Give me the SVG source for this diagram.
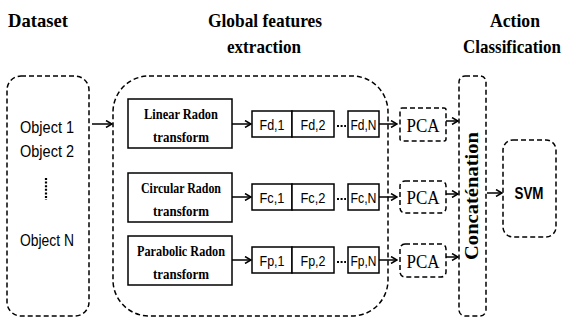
<svg xmlns="http://www.w3.org/2000/svg" width="571" height="320" viewBox="0 0 571 320">
<defs>
<style>
.title{font-family:"Liberation Serif",serif;font-weight:bold;font-size:19px;text-anchor:middle;fill:#000}
.dash{fill:none;stroke:#000;stroke-width:1.5;stroke-dasharray:5,3}
.solid{fill:#fff;stroke:#000;stroke-width:1.5}
.tb{font-family:"Liberation Serif",serif;font-weight:bold;font-size:15px;text-anchor:middle}
.cell{font-family:"Liberation Sans",sans-serif;font-size:15px;text-anchor:middle}
.obj{font-family:"Liberation Sans",sans-serif;font-size:17px;text-anchor:middle}
.pca{font-family:"Liberation Serif",serif;font-size:19px;text-anchor:middle}
.conn{fill:none;stroke:#000;stroke-width:1.5;marker-end:url(#arr)}
.dots{stroke:#000;stroke-width:2.2;stroke-dasharray:2,1.6}
</style>
<marker id="arr" markerWidth="8" markerHeight="8" refX="7" refY="4" orient="auto" markerUnits="userSpaceOnUse">
<path d="M1,0.5 L7,4 L1,7.5" fill="none" stroke="#000" stroke-width="1.5"/>
</marker>
</defs>
<rect width="571" height="320" fill="#fff"/>
<g id="titles">
<text class="title" x="38" y="27" textLength="60" lengthAdjust="spacingAndGlyphs">Dataset</text>
<text class="title" x="265" y="27" textLength="114" lengthAdjust="spacingAndGlyphs">Global features</text>
<text class="title" x="264" y="53" textLength="74" lengthAdjust="spacingAndGlyphs">extraction</text>
<text class="title" x="515" y="27" font-size="18" textLength="50" lengthAdjust="spacingAndGlyphs">Action</text>
<text class="title" x="512" y="53" font-size="17" textLength="98" lengthAdjust="spacingAndGlyphs">Classification</text>
</g>
<g id="dataset">
<rect class="dash" x="7" y="76" width="82" height="240" rx="14"/>
<text class="obj" x="47" y="133" textLength="54" lengthAdjust="spacingAndGlyphs">Object 1</text>
<text class="obj" x="47" y="157" textLength="54" lengthAdjust="spacingAndGlyphs">Object 2</text>
<line class="dots" x1="46" y1="178" x2="46" y2="200"/>
<text class="obj" x="47" y="246" textLength="54" lengthAdjust="spacingAndGlyphs">Object N</text>
</g>
<g id="global">
<rect class="dash" x="113" y="76" width="275" height="240" rx="36"/>
</g>
<g id="linear">
<rect class="solid" x="128" y="99" width="104" height="49"/>
<text class="tb" x="181" y="119" textLength="74" lengthAdjust="spacingAndGlyphs">Linear Radon</text>
<text class="tb" x="181" y="142" textLength="56" lengthAdjust="spacingAndGlyphs">transform</text>
</g>
<g id="fd">
<rect class="solid" x="252" y="111" width="40" height="26"/>
<rect class="solid" x="292" y="111" width="42" height="26"/>
<line class="dots" x1="337" y1="126" x2="346" y2="126"/>
<rect class="solid" x="348" y="111" width="31" height="26"/>
<text class="cell" x="272" y="130" textLength="25" lengthAdjust="spacingAndGlyphs">Fd,1</text>
<text class="cell" x="313" y="130" textLength="25" lengthAdjust="spacingAndGlyphs">Fd,2</text>
<text class="cell" x="363.5" y="130" textLength="26" lengthAdjust="spacingAndGlyphs">Fd,N</text>
</g>
<g id="circular">
<rect class="solid" x="128" y="173" width="104" height="49"/>
<text class="tb" x="181" y="193" textLength="80" lengthAdjust="spacingAndGlyphs">Circular Radon</text>
<text class="tb" x="181" y="216" textLength="56" lengthAdjust="spacingAndGlyphs">transform</text>
</g>
<g id="fc">
<rect class="solid" x="252" y="184" width="40" height="26"/>
<rect class="solid" x="292" y="184" width="42" height="26"/>
<line class="dots" x1="337" y1="199" x2="346" y2="199"/>
<rect class="solid" x="348" y="184" width="31" height="26"/>
<text class="cell" x="272" y="203" textLength="25" lengthAdjust="spacingAndGlyphs">Fc,1</text>
<text class="cell" x="313" y="203" textLength="25" lengthAdjust="spacingAndGlyphs">Fc,2</text>
<text class="cell" x="363.5" y="203" textLength="26" lengthAdjust="spacingAndGlyphs">Fc,N</text>
</g>
<g id="parabolic">
<rect class="solid" x="128" y="236" width="104" height="49"/>
<text class="tb" x="181" y="256" textLength="88" lengthAdjust="spacingAndGlyphs">Parabolic Radon</text>
<text class="tb" x="181" y="279" textLength="56" lengthAdjust="spacingAndGlyphs">transform</text>
</g>
<g id="fp">
<rect class="solid" x="252" y="247" width="40" height="26"/>
<rect class="solid" x="292" y="247" width="42" height="26"/>
<line class="dots" x1="337" y1="262" x2="346" y2="262"/>
<rect class="solid" x="348" y="247" width="31" height="26"/>
<text class="cell" x="272" y="266" textLength="25" lengthAdjust="spacingAndGlyphs">Fp,1</text>
<text class="cell" x="313" y="266" textLength="25" lengthAdjust="spacingAndGlyphs">Fp,2</text>
<text class="cell" x="363.5" y="266" textLength="26" lengthAdjust="spacingAndGlyphs">Fp,N</text>
</g>
<g id="pca1">
<rect class="dash" x="400" y="108" width="46" height="33" rx="2"/>
<text class="pca" x="423" y="132" textLength="33" lengthAdjust="spacingAndGlyphs">PCA</text>
</g>
<g id="pca2">
<rect class="dash" x="400" y="181" width="46" height="32" rx="5"/>
<text class="pca" x="423" y="204" textLength="33" lengthAdjust="spacingAndGlyphs">PCA</text>
</g>
<g id="pca3">
<rect class="dash" x="400" y="244" width="46" height="33" rx="5"/>
<text class="pca" x="423" y="268" textLength="33" lengthAdjust="spacingAndGlyphs">PCA</text>
</g>
<g id="concat">
<rect class="dash" x="459" y="76" width="27" height="240" rx="6"/>
<text x="478" y="196" transform="rotate(-90 478 196)" font-family="Liberation Serif, serif" font-weight="bold" font-size="18" text-anchor="middle" textLength="128" lengthAdjust="spacingAndGlyphs">Concaténation</text>
</g>
<g id="svm">
<rect class="dash" x="503" y="140" width="53" height="97" rx="10"/>
<text x="529" y="199" font-family="Liberation Sans, sans-serif" font-weight="bold" font-size="17" text-anchor="middle" textLength="29" lengthAdjust="spacingAndGlyphs">SVM</text>
</g>
<g id="connectors">
<line class="conn" x1="92" y1="124" x2="112" y2="124"/>
<line class="conn" x1="232" y1="124" x2="251" y2="124"/>
<line class="conn" x1="232" y1="197" x2="251" y2="197"/>
<line class="conn" x1="232" y1="260" x2="251" y2="260"/>
<line class="conn" x1="379" y1="124" x2="397" y2="124"/>
<line class="conn" x1="379" y1="197" x2="397" y2="197"/>
<line class="conn" x1="379" y1="260" x2="397" y2="260"/>
<line class="conn" x1="446" y1="121" x2="458" y2="121"/>
<line class="conn" x1="446" y1="194" x2="458" y2="194"/>
<line class="conn" x1="446" y1="257" x2="458" y2="257"/>
<line class="conn" x1="487" y1="193" x2="502" y2="193"/>
</g>
</svg>
